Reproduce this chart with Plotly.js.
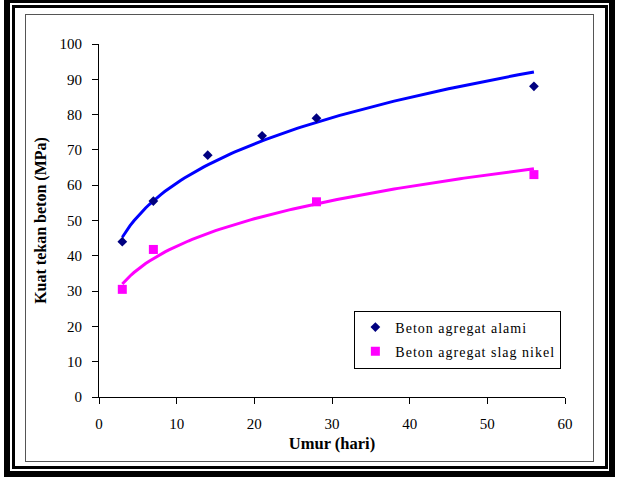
<!DOCTYPE html>
<html>
<head>
<meta charset="utf-8">
<script src="https://cdn.plot.ly/plotly-3.0.1.min.js"></script>
<style>
  html, body { margin: 0; padding: 0; background: #fff; }
  #wrap { position: relative; width: 618px; height: 487px; overflow: hidden; }
  #chart { position: absolute; left: 0; top: 0; width: 618px; height: 487px; }
  .frame { position: absolute; pointer-events: none; box-sizing: content-box; }
  /* spaced-out legend lettering; applies to Plotly's measuring copy too */
  text.legendtext { letter-spacing: 1px; }
</style>
</head>
<body>
<div id="wrap">
  <div id="chart"></div>
  <div class="frame" style="left:4px;top:-3px;width:599px;height:468px;border:6px solid #000;"></div>
  <div class="frame" style="left:12px;top:5px;width:590px;height:458px;border:3px solid #000;"></div>
  <div class="frame" style="left:25px;top:14px;width:567px;height:446px;border:1.5px solid #555;"></div>
</div>
<script>
// Compressive strength of concrete versus age
const ageNatural = [3, 7, 14, 21, 28, 56];
const strengthNatural = [44, 55.5, 68.5, 74, 79, 88];

const ageSlag = [3, 7, 28, 56];
const strengthSlag = [30.5, 41.8, 55.3, 63];

const nameNatural = 'Beton agregat alami';
const nameSlag = 'Beton agregat slag nikel';

const xTicks = [0, 10, 20, 30, 40, 50, 60];
const yTicks = [0, 10, 20, 30, 40, 50, 60, 70, 80, 90, 100];

// Least-squares power trendline y = a * x^b, fitted in log space
function fitPower(xs, ys) {
  const lx = xs.map(Math.log), ly = ys.map(Math.log);
  const n = xs.length;
  const mx = lx.reduce((s, v) => s + v, 0) / n;
  const my = ly.reduce((s, v) => s + v, 0) / n;
  let sxy = 0, sxx = 0;
  for (let i = 0; i < n; i++) {
    sxy += (lx[i] - mx) * (ly[i] - my);
    sxx += (lx[i] - mx) * (lx[i] - mx);
  }
  const b = sxy / sxx;
  const a = Math.exp(my - b * mx);
  return { a, b };
}

function trendCurve(xs, ys) {
  const { a, b } = fitPower(xs, ys);
  const x0 = Math.min(...xs), x1 = Math.max(...xs);
  const cx = [], cy = [];
  for (let x = x0; x <= x1 + 1e-9; x += 0.5) {
    cx.push(x);
    cy.push(a * Math.pow(x, b));
  }
  return { x: cx, y: cy };
}

const trendNatural = trendCurve(ageNatural, strengthNatural);
const trendSlag = trendCurve(ageSlag, strengthSlag);

const serif = 'Liberation Serif, Times New Roman, serif';

const traces = [
  {
    x: trendNatural.x, y: trendNatural.y, mode: 'lines', type: 'scatter',
    line: { color: '#0000FF', width: 3 }, showlegend: false, hoverinfo: 'skip'
  },
  {
    x: trendSlag.x, y: trendSlag.y, mode: 'lines', type: 'scatter',
    line: { color: '#FF00FF', width: 3 }, showlegend: false, hoverinfo: 'skip'
  },
  {
    x: ageNatural, y: strengthNatural, mode: 'markers', type: 'scatter',
    name: nameNatural, legendgroup: 'a',
    marker: { symbol: 'diamond', size: 7.5, color: '#000080' }
  },
  {
    x: ageSlag, y: strengthSlag, mode: 'markers', type: 'scatter',
    name: nameSlag, legendgroup: 'b',
    marker: { symbol: 'square', size: 9, color: '#FF00FF' }
  }
];

const axisCommon = {
  showgrid: false, zeroline: false, showline: true,
  linecolor: '#000', linewidth: 1,
  ticks: 'outside', ticklen: 6, tickwidth: 1, tickcolor: '#000',
  tickfont: { family: serif, size: 15, color: '#000' },
  fixedrange: true
};

const layout = {
  width: 618, height: 487,
  margin: { l: 99, r: 53, t: 44, b: 90 },
  paper_bgcolor: '#fff', plot_bgcolor: '#fff',
  showlegend: true,
  legend: {
    x: 0.548, y: 0.245, xanchor: 'left', yanchor: 'top',
    bgcolor: '#fff', bordercolor: '#000', borderwidth: 1,
    font: { family: serif, size: 14, color: '#000' },
    traceorder: 'grouped', tracegroupgap: 3
  },
  xaxis: Object.assign({}, axisCommon, {
    range: [0, 60], tickvals: xTicks, ticklabelstandoff: 7,
    title: { text: '<b>Umur (hari)</b>', font: { family: serif, size: 16.5, color: '#000' }, standoff: 6 }
  }),
  yaxis: Object.assign({}, axisCommon, {
    range: [0, 100], tickvals: yTicks, ticklabelstandoff: 7,
    title: { text: '<b>Kuat tekan beton (MPa)</b>', font: { family: serif, size: 16, color: '#000' }, standoff: 8 }
  })
};

Plotly.newPlot('chart', traces, layout, { staticPlot: true, displayModeBar: false });
</script>
</body>
</html>
